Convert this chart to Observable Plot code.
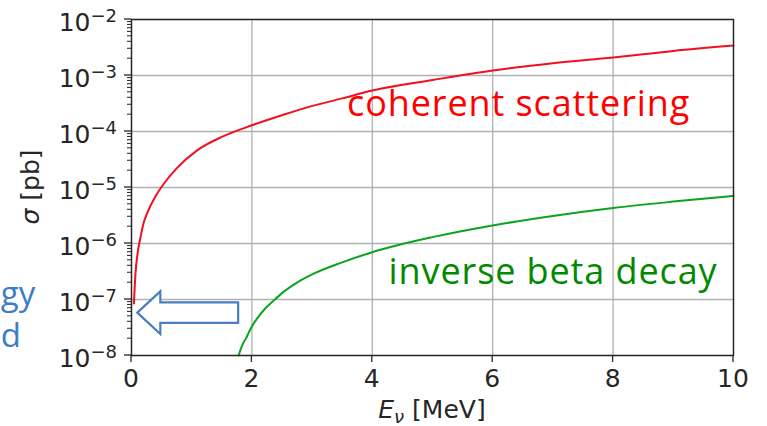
<!DOCTYPE html>
<html>
<head>
<meta charset="utf-8">
<script src="https://cdn.jsdelivr.net/npm/d3@7"></script>
<script src="https://cdn.jsdelivr.net/npm/@observablehq/plot@0.6"></script>
<style>
  html, body { margin: 0; padding: 0; background: #fff; }
  svg { display: block; }
</style>
</head>
<body>
<div id="chart"></div>
<script>
// Coherent elastic neutrino–nucleus scattering cross section (pb) vs neutrino energy (MeV)
const cohE = [0.04, 0.066, 0.1, 0.15, 0.2, 0.26, 0.4, 0.54, 0.75, 1.09, 1.5, 2.0, 2.5, 2.92, 3.5, 4.0, 5.0, 6.0, 7.0, 8.0, 9.0, 10.0];
const cohSigma = [8.5e-8, 2.9e-7, 6.5e-7, 1.3e-6, 2.3e-6, 3.5e-6, 7.0e-6, 1.18e-5, 2.2e-5, 4.6e-5, 8.0e-5, 1.29e-4, 1.95e-4, 2.7e-4, 3.9e-4, 5.4e-4, 8.3e-4, 1.23e-3, 1.65e-3, 2.1e-3, 2.75e-3, 3.43e-3];

// Inverse beta decay cross section (pb), above its ~1.8 MeV threshold
const ibdE = [1.78, 1.82, 1.86, 1.9, 1.95, 2.0, 2.1, 2.2, 2.35, 2.5, 2.75, 3.0, 3.5, 4.0, 5.0, 6.0, 7.0, 8.0, 9.0, 10.0];
const ibdSigma = [1.0e-8, 1.35e-8, 1.7e-8, 2.0e-8, 2.6e-8, 3.3e-8, 4.8e-8, 6.5e-8, 9.3e-8, 1.3e-7, 2.0e-7, 2.8e-7, 4.6e-7, 7.0e-7, 1.3e-6, 2.1e-6, 3.1e-6, 4.3e-6, 5.6e-6, 7.1e-6];

// Axis ticks
const xTicks = [0, 2, 4, 6, 8, 10];
const yExponents = [-8, -7, -6, -5, -4, -3, -2];
const yMinorFactors = [2, 3, 4, 5, 6, 7, 8, 9];

// Curve labels
const curveLabels = ["coherent scattering", "inverse beta decay"];
const curveLabelE = [3.58, 4.27];
const curveLabelSigma = [3.1e-4, 3.1e-7];
const curveLabelColors = ["#ff0000", "#008a00"];

// Side note (left margin) and its arrow pointing towards E = 0
const noteText = ["gy", "d"];
const noteE = [-2.17, -2.17];
const noteSigma = [1.23e-7, 2.19e-8];
const arrowTipE = 0.105, arrowTipSigma = 5.7e-8, arrowTailE = 1.78;

const coherent = cohE.map((E, i) => ({E, sigma: cohSigma[i]}));
const ibd = ibdE.map((E, i) => ({E, sigma: ibdSigma[i]}));
const labels = curveLabels.map((text, i) => ({text, E: curveLabelE[i], sigma: curveLabelSigma[i], color: curveLabelColors[i]}));
const notes = noteText.map((text, i) => ({text, E: noteE[i], sigma: noteSigma[i]}));

const yDecades = yExponents.map(e => Math.pow(10, e));
const yMinor = [];
for (const e of yExponents.slice(0, -1)) for (const k of yMinorFactors) yMinor.push(k * Math.pow(10, e));

const tickFont = "DejaVu Sans";
const labelFont = "Open Sans";
const ink = "#262626";

// Axes: outward ticks, tick labels with exponents, axis titles
function axes(index, scales) {
  const {x, y} = scales;
  const g = d3.create("svg:g").attr("font-family", tickFont).attr("fill", ink);
  const left = x(0), right = x(10), bottom = y(1e-8), top = y(1e-2);
  for (const t of xTicks) {
    g.append("line").attr("x1", x(t)).attr("x2", x(t)).attr("y1", bottom).attr("y2", bottom + 7)
      .attr("stroke", ink).attr("stroke-width", 1.3);
    g.append("text").attr("x", x(t)).attr("y", bottom + 32).attr("text-anchor", "middle")
      .attr("font-size", 25).text(t);
  }
  for (const v of yMinor) {
    g.append("line").attr("x1", left - 4).attr("x2", left).attr("y1", y(v)).attr("y2", y(v))
      .attr("stroke", ink).attr("stroke-width", 1);
  }
  yExponents.forEach(e => {
    const v = Math.pow(10, e);
    g.append("line").attr("x1", left - 7).attr("x2", left).attr("y1", y(v)).attr("y2", y(v))
      .attr("stroke", ink).attr("stroke-width", 1.3);
    const t = g.append("text").attr("x", left - 14).attr("y", y(v) + 12).attr("text-anchor", "end")
      .attr("font-size", 25);
    t.append("tspan").text("10");
    t.append("tspan").attr("font-size", 18).attr("dy", -9).text("\u2212" + Math.abs(e));
  });
  // x title: E_ν [MeV]
  const xt = g.append("text").attr("x", (left + right) / 2).attr("y", 418).attr("text-anchor", "middle")
    .attr("font-size", 25);
  xt.append("tspan").attr("font-style", "italic").text("E");
  xt.append("tspan").attr("font-style", "italic").attr("font-size", 18).attr("dy", 5).text("\u03bd");
  xt.append("tspan").attr("dy", -5).text(" [MeV]");
  // y title: σ [pb]
  const yt = g.append("text").attr("transform", `translate(39,${(top + bottom) / 2}) rotate(-90)`)
    .attr("text-anchor", "middle").attr("font-size", 25);
  yt.append("tspan").attr("font-style", "italic").text("\u03c3");
  yt.append("tspan").text(" [pb]");
  return g.node();
}

// Hollow block arrow pointing left, anchored in data space
function arrow(index, scales) {
  const {x, y} = scales;
  const tx = x(arrowTipE), ty = y(arrowTipSigma), tail = x(arrowTailE);
  const head = 23, shaft = 10.3, wing = 21.3;
  const d = `M${tx},${ty} L${tx + head},${ty - wing} L${tx + head},${ty - shaft} L${tail},${ty - shaft}` +
            ` L${tail},${ty + shaft} L${tx + head},${ty + shaft} L${tx + head},${ty + wing} Z`;
  return d3.create("svg:path").attr("d", d).attr("fill", "#fff").attr("stroke", "#4a7ebf")
    .attr("stroke-width", 2.2).attr("stroke-linejoin", "miter").node();
}

const chart = Plot.plot({
  width: 767,
  height: 426,
  marginLeft: 131,
  marginRight: 34,
  marginTop: 19,
  marginBottom: 71,
  style: {background: "#fff", fontFamily: tickFont, overflow: "visible"},
  x: {domain: [0, 10], axis: null},
  y: {type: "log", domain: [1e-8, 1e-2], axis: null},
  marks: [
    Plot.ruleX(xTicks, {stroke: "#b0b0b0", strokeWidth: 1.3}),
    Plot.ruleY(yDecades, {stroke: "#b0b0b0", strokeWidth: 1.3}),
    Plot.line(coherent, {x: "E", y: "sigma", stroke: "#f0101e", strokeWidth: 2, curve: "monotone-x"}),
    Plot.line(ibd, {x: "E", y: "sigma", stroke: "#0aa41e", strokeWidth: 2, curve: "monotone-x"}),
    Plot.frame({stroke: ink, strokeWidth: 1.4}),
    arrow,
    Plot.text(labels, {x: "E", y: "sigma", text: "text", fill: "color", textAnchor: "start",
      fontFamily: labelFont, fontSize: 36}),
    Plot.text(notes, {x: "E", y: "sigma", text: "text", fill: "#3b7dc6", textAnchor: "start",
      fontFamily: labelFont, fontSize: 33}),
    axes
  ]
});

// Slightly open tracking for the curve labels
d3.select(chart).selectAll("text")
  .filter(function() { return curveLabels.includes(this.textContent); })
  .attr("letter-spacing", 0.9);

document.getElementById("chart").appendChild(chart);
</script>
</body>
</html>
